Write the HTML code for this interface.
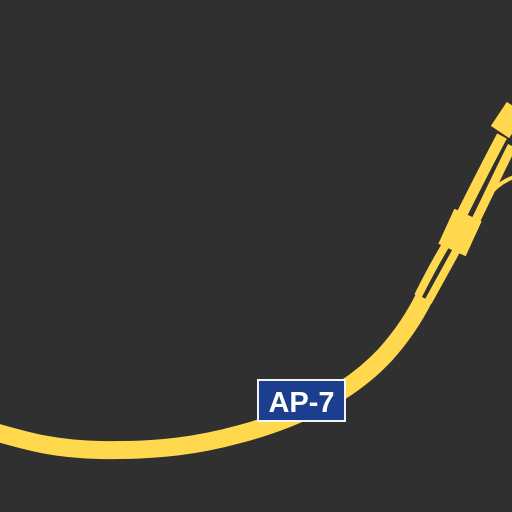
<!DOCTYPE html>
<html><head><style>
html,body{margin:0;padding:0;background:#303030;width:512px;height:512px;overflow:hidden}
</style></head><body>
<svg width="512" height="512" viewBox="0 0 512 512" style="position:absolute;left:0;top:0">
<rect width="512" height="512" fill="#303030"/>
<g fill="none" stroke="#ffd84d" stroke-linecap="butt">
<path d="M-5,432 C30,442 55,449 100,450 C160,451 200,445 240,434 C300,418 350,392 385,355 C403,335 415,316 424,298" stroke-width="18"/>
<path d="M418,296 C430,272 440,254 450,238" stroke-width="8"/>
<path d="M428,302 C440,280 450,262 460,244" stroke-width="8"/>
<path d="M452,250 L468,215" stroke-width="30"/>
<path d="M458,222 C472,194 486,166 502,136" stroke-width="11"/>
<path d="M472,228 C484,204 497,176 512,146" stroke-width="9"/>
<path d="M500,132 L516,108" stroke-width="22"/>
<path d="M488,196 C495,187 503,181 514,177" stroke-width="4"/>
</g>
<rect x="257" y="379" width="89" height="43" fill="#f4f4f4"/>
<rect x="259" y="381" width="85" height="39" fill="#1b3f8e"/>
<text x="301.5" y="412" text-anchor="middle" font-family="Liberation Sans, sans-serif" font-weight="bold" font-size="29" fill="#ffffff">AP-7</text>
</svg>
</body></html>
